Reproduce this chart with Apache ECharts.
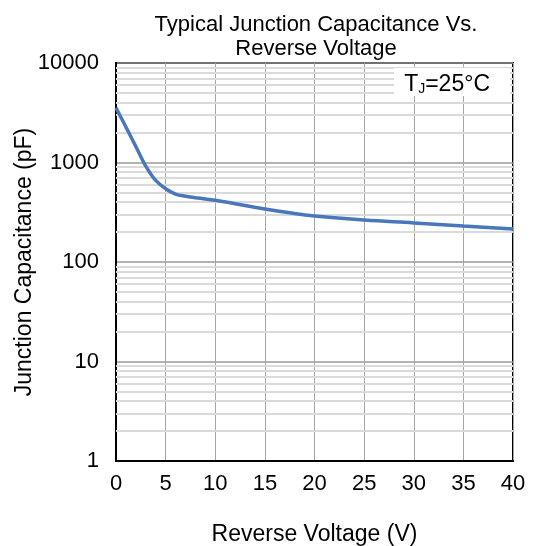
<!DOCTYPE html>
<html>
<head>
<meta charset="utf-8">
<script src="https://cdn.jsdelivr.net/npm/echarts@6/dist/echarts.min.js"></script>
<style>html,body{margin:0;padding:0;background:#fff}#c{width:533px;height:546px}</style>
</head>
<body>
<div id="c"></div>
<script>
// Data
const voltage = [0, 1, 2, 3, 4, 5, 6, 7, 8, 9, 10, 12, 15, 17.5, 20, 25, 30, 35, 40];
const capacitance = [3550, 2270, 1450, 920, 660, 545, 482, 458, 443, 430, 418, 385, 341, 312, 290, 264, 247, 230, 215];
const xTicks = [0, 5, 10, 15, 20, 25, 30, 35, 40];
const yDecades = [1, 10, 100, 1000, 10000];
const minorMultipliers = [2, 3, 4, 5, 6, 7, 8, 9];

const FONT = '"Liberation Sans", Arial, sans-serif';
const minorLines = [];
yDecades.slice(0, -1).forEach(d => minorMultipliers.forEach(m => minorLines.push({ yAxis: d * m })));

const chart = echarts.init(document.getElementById('c'));
chart.setOption({
  animation: false,
  title: [
    {
      text: 'Typical Junction Capacitance Vs.\nReverse Voltage',
      left: 311, top: 8, textAlign: 'center',
      textStyle: { fontFamily: FONT, fontSize: 22, fontWeight: 'normal', color: '#000', lineHeight: 24 }
    },
    {
      text: '{a|T}{s|J}{a|=25°C}',
      right: 23, top: 67,
      backgroundColor: '#fff',
      padding: [5, 20, 0, 10],
      textStyle: {
        rich: {
          a: { fontFamily: FONT, fontSize: 23, fontWeight: 'normal', color: '#000', lineHeight: 25 },
          s: { fontFamily: FONT, fontSize: 14, fontWeight: 'normal', color: '#000', lineHeight: 25, padding: [9, 0, 0, 0] }
        }
      },
      z: 10
    }
  ],
  grid: { left: 116, right: 20, top: 63, bottom: 85, containLabel: false, outerBoundsMode: 'none', show: true, borderColor: '#000', borderWidth: 2, backgroundColor: 'transparent' },
  xAxis: {
    type: 'value', min: 0, max: 40, interval: 5,
    name: 'Reverse Voltage (V)', nameLocation: 'middle', nameGap: 62, nameMoveOverlap: false,
    nameTextStyle: { fontFamily: FONT, fontSize: 23, color: '#000' },
    axisLine: { show: true, lineStyle: { color: '#000', width: 2 } },
    axisTick: { show: false },
    axisLabel: { fontFamily: FONT, fontSize: 22, color: '#000', margin: 12, formatter: v => xTicks.includes(v) ? String(v) : '' },
    splitLine: { show: true, lineStyle: { color: '#a6a6a6', width: 1 } }
  },
  yAxis: {
    type: 'log', logBase: 10, min: 1, max: 10000,
    name: 'Junction Capacitance (pF)', nameLocation: 'middle', nameGap: 80, nameMoveOverlap: false,
    nameTextStyle: { fontFamily: FONT, fontSize: 23, color: '#000' },
    axisLine: { show: true, lineStyle: { color: '#000', width: 2 } },
    axisTick: { show: false },
    axisLabel: { fontFamily: FONT, fontSize: 22, color: '#000', margin: 17, formatter: v => String(v) },
    splitLine: { show: true, lineStyle: { color: '#999', width: 1.5 } }
  },
  series: [
    {
      type: 'line', data: [], silent: true,
      markLine: {
        silent: true, symbol: 'none', label: { show: false }, animation: false,
        lineStyle: { color: '#dadada', width: 2, type: 'solid' },
        data: minorLines
      },
      z: 1
    },
    {
      type: 'line', smooth: 0.4, symbol: 'none',
      data: voltage.map((v, i) => [v, capacitance[i]]),
      lineStyle: { color: '#4a77b9', width: 3.5 },
      z: 5
    }
  ]
});
</script>
</body>
</html>
